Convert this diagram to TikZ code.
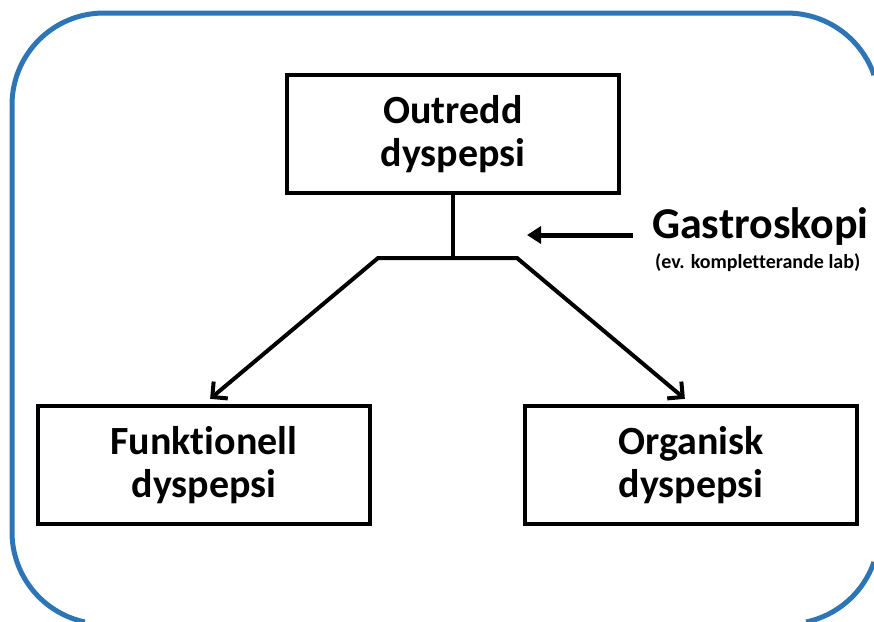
\documentclass[tikz,border=0pt]{standalone}
\usepackage{fontspec}
\setmainfont[Ligatures=NoCommon]{Carlito}
\usetikzlibrary{arrows.meta}
\definecolor{frameblue}{RGB}{46,117,182}
\begin{document}
\begin{tikzpicture}[x=1pt,y=-1pt,
  box/.style={draw=black,line width=4pt,minimum width=332pt,minimum height=118pt,
    inner sep=0pt,align=center,font=\bfseries\fontsize{40}{43}\selectfont},
  conn/.style={line width=4pt,line join=miter},
  barb/.style={-{Straight Barb[length=11pt,width=22pt,line width=4pt]}},
  fatarrow/.style={line width=5pt,-{Triangle[length=14pt,width=17pt]}},
  frame/.style={frameblue,line width=5pt}]
\useasboundingbox (0,0) rectangle (874,621);
% frame (only the part inside the canvas)
\coordinate (tr) at (874,75.1);
\draw[frame] (tr) arc[start angle=341, end angle=270, radius=92]
  -- (104,13) arc[start angle=270, end angle=180, radius=92]
  -- (12,532) arc[start angle=180, end angle=102, radius=92];
\coordinate (br) at (806.1,622);
\draw[frame] (br) arc[start angle=78, end angle=19, radius=92];
\node[box] (top) at (453,134) {Outredd\\dyspepsi};
\node[box] (fl) at (204,465) {Funktionell\\dyspepsi};
\node[box] (og) at (691,465) {Organisk\\dyspepsi};
\coordinate (j) at (453,258);
\coordinate (jl) at (378,258);
\coordinate (jr) at (517,258);
\draw[conn] (top.south) -- (j);
\draw[conn,barb,shorten >=8pt] (j) -- (jl) -- (fl.north);
\draw[conn,barb,shorten >=8pt] (j) -- (jr) -- (og.north);
\node[anchor=base west,inner sep=0pt,font=\bfseries\fontsize{44}{50}\selectfont] (gas) at (652,238) {Gastroskopi};
\node[anchor=base west,inner sep=0pt,font=\bfseries\fontsize{20}{22}\selectfont] (lab) at (655,268) {(ev. kompletterande lab)};
\coordinate (gs) at (633,235);
\coordinate (ge) at (527,235);
\draw[fatarrow] (gs) -- (ge);
\end{tikzpicture}
\end{document}
